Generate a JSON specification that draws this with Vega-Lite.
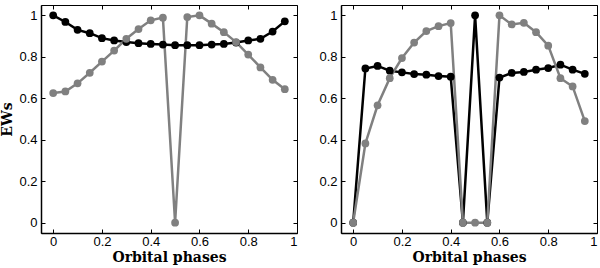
{
  "$schema": "https://vega.github.io/schema/vega-lite/v6.json",
  "padding": {"left": 0, "top": 4, "right": 0, "bottom": 0},
  "autosize": {"type": "pad"},
  "background": "white",
  "spacing": 20,
  "config": {
    "view": {"stroke": "black", "strokeWidth": 1},
    "axis": {
      "labelFont": "Liberation Sans", "labelFontSize": 13, "labelColor": "black",
      "titleFont": "DejaVu Serif", "titleFontSize": 14, "titleFontWeight": "bold", "titleColor": "black",
      "grid": false, "tickColor": "black", "domainColor": "black", "tickSize": -4, "domainWidth": 1.5,
      "values": [0, 0.2, 0.4, 0.6, 0.8, 1], "format": "~g"
    },
    "axisX": {"labelPadding": 6, "titlePadding": 2, "labelFlush": true},
    "axisY": {"labelPadding": 8, "titlePadding": 4}
  },
  "data": {"values": [
    {"panel": 1, "series": "b", "phase": 0.00, "ew": 1.000},
    {"panel": 1, "series": "b", "phase": 0.05, "ew": 0.968},
    {"panel": 1, "series": "b", "phase": 0.10, "ew": 0.930},
    {"panel": 1, "series": "b", "phase": 0.15, "ew": 0.914},
    {"panel": 1, "series": "b", "phase": 0.20, "ew": 0.890},
    {"panel": 1, "series": "b", "phase": 0.25, "ew": 0.879},
    {"panel": 1, "series": "b", "phase": 0.30, "ew": 0.871},
    {"panel": 1, "series": "b", "phase": 0.35, "ew": 0.866},
    {"panel": 1, "series": "b", "phase": 0.40, "ew": 0.862},
    {"panel": 1, "series": "b", "phase": 0.45, "ew": 0.859},
    {"panel": 1, "series": "b", "phase": 0.50, "ew": 0.856},
    {"panel": 1, "series": "b", "phase": 0.55, "ew": 0.856},
    {"panel": 1, "series": "b", "phase": 0.60, "ew": 0.856},
    {"panel": 1, "series": "b", "phase": 0.65, "ew": 0.859},
    {"panel": 1, "series": "b", "phase": 0.70, "ew": 0.862},
    {"panel": 1, "series": "b", "phase": 0.75, "ew": 0.869},
    {"panel": 1, "series": "b", "phase": 0.80, "ew": 0.879},
    {"panel": 1, "series": "b", "phase": 0.85, "ew": 0.887},
    {"panel": 1, "series": "b", "phase": 0.90, "ew": 0.922},
    {"panel": 1, "series": "b", "phase": 0.95, "ew": 0.971},
    {"panel": 1, "series": "g", "phase": 0.00, "ew": 0.625},
    {"panel": 1, "series": "g", "phase": 0.05, "ew": 0.633},
    {"panel": 1, "series": "g", "phase": 0.10, "ew": 0.672},
    {"panel": 1, "series": "g", "phase": 0.15, "ew": 0.723},
    {"panel": 1, "series": "g", "phase": 0.20, "ew": 0.777},
    {"panel": 1, "series": "g", "phase": 0.25, "ew": 0.830},
    {"panel": 1, "series": "g", "phase": 0.30, "ew": 0.887},
    {"panel": 1, "series": "g", "phase": 0.35, "ew": 0.934},
    {"panel": 1, "series": "g", "phase": 0.40, "ew": 0.976},
    {"panel": 1, "series": "g", "phase": 0.45, "ew": 0.989},
    {"panel": 1, "series": "g", "phase": 0.50, "ew": 0.000},
    {"panel": 1, "series": "g", "phase": 0.55, "ew": 0.992},
    {"panel": 1, "series": "g", "phase": 0.60, "ew": 1.000},
    {"panel": 1, "series": "g", "phase": 0.65, "ew": 0.960},
    {"panel": 1, "series": "g", "phase": 0.70, "ew": 0.919},
    {"panel": 1, "series": "g", "phase": 0.75, "ew": 0.871},
    {"panel": 1, "series": "g", "phase": 0.80, "ew": 0.811},
    {"panel": 1, "series": "g", "phase": 0.85, "ew": 0.749},
    {"panel": 1, "series": "g", "phase": 0.90, "ew": 0.689},
    {"panel": 1, "series": "g", "phase": 0.95, "ew": 0.644},
    {"panel": 2, "series": "b", "phase": 0.00, "ew": 0.000},
    {"panel": 2, "series": "b", "phase": 0.05, "ew": 0.744},
    {"panel": 2, "series": "b", "phase": 0.10, "ew": 0.756},
    {"panel": 2, "series": "b", "phase": 0.15, "ew": 0.733},
    {"panel": 2, "series": "b", "phase": 0.20, "ew": 0.725},
    {"panel": 2, "series": "b", "phase": 0.25, "ew": 0.717},
    {"panel": 2, "series": "b", "phase": 0.30, "ew": 0.714},
    {"panel": 2, "series": "b", "phase": 0.35, "ew": 0.707},
    {"panel": 2, "series": "b", "phase": 0.40, "ew": 0.704},
    {"panel": 2, "series": "b", "phase": 0.45, "ew": 0.000},
    {"panel": 2, "series": "b", "phase": 0.50, "ew": 1.000},
    {"panel": 2, "series": "b", "phase": 0.55, "ew": 0.000},
    {"panel": 2, "series": "b", "phase": 0.60, "ew": 0.700},
    {"panel": 2, "series": "b", "phase": 0.65, "ew": 0.722},
    {"panel": 2, "series": "b", "phase": 0.70, "ew": 0.727},
    {"panel": 2, "series": "b", "phase": 0.75, "ew": 0.738},
    {"panel": 2, "series": "b", "phase": 0.80, "ew": 0.746},
    {"panel": 2, "series": "b", "phase": 0.85, "ew": 0.762},
    {"panel": 2, "series": "b", "phase": 0.90, "ew": 0.738},
    {"panel": 2, "series": "b", "phase": 0.95, "ew": 0.718},
    {"panel": 2, "series": "g", "phase": 0.00, "ew": 0.000},
    {"panel": 2, "series": "g", "phase": 0.05, "ew": 0.382},
    {"panel": 2, "series": "g", "phase": 0.10, "ew": 0.566},
    {"panel": 2, "series": "g", "phase": 0.15, "ew": 0.697},
    {"panel": 2, "series": "g", "phase": 0.20, "ew": 0.794},
    {"panel": 2, "series": "g", "phase": 0.25, "ew": 0.869},
    {"panel": 2, "series": "g", "phase": 0.30, "ew": 0.924},
    {"panel": 2, "series": "g", "phase": 0.35, "ew": 0.948},
    {"panel": 2, "series": "g", "phase": 0.40, "ew": 0.963},
    {"panel": 2, "series": "g", "phase": 0.45, "ew": 0.000},
    {"panel": 2, "series": "g", "phase": 0.50, "ew": 0.000},
    {"panel": 2, "series": "g", "phase": 0.55, "ew": 0.000},
    {"panel": 2, "series": "g", "phase": 0.60, "ew": 1.000},
    {"panel": 2, "series": "g", "phase": 0.65, "ew": 0.956},
    {"panel": 2, "series": "g", "phase": 0.70, "ew": 0.964},
    {"panel": 2, "series": "g", "phase": 0.75, "ew": 0.919},
    {"panel": 2, "series": "g", "phase": 0.80, "ew": 0.854},
    {"panel": 2, "series": "g", "phase": 0.85, "ew": 0.697},
    {"panel": 2, "series": "g", "phase": 0.90, "ew": 0.657},
    {"panel": 2, "series": "g", "phase": 0.95, "ew": 0.490}
  ]},
  "hconcat": [
    {
      "width": 256, "height": 228,
      "transform": [{"filter": "datum.panel == 1"}],
      "layer": [
        {
          "mark": {"type": "line", "strokeWidth": 2.5, "point": {"size": 60, "filled": true, "opacity": 1}},
          "encoding": {
            "x": {"field": "phase", "type": "quantitative", "scale": {"domain": [-0.05, 1], "nice": false, "zero": false}, "axis": {"title": "Orbital phases"}},
            "y": {"field": "ew", "type": "quantitative", "scale": {"domain": [-0.05, 1.05], "nice": false, "zero": false}, "axis": {"title": "EWs"}},
            "color": {"field": "series", "type": "nominal", "scale": {"domain": ["b", "g"], "range": ["#000000", "#808080"]}, "legend": null}
          }
        },
        {
          "mark": {"type": "line", "opacity": 0},
          "encoding": {
            "x": {"field": "phase", "type": "quantitative", "scale": {"domain": [-0.05, 1], "nice": false, "zero": false}, "axis": {"orient": "top", "labels": false, "title": null, "domain": false}},
            "y": {"field": "ew", "type": "quantitative", "scale": {"domain": [-0.05, 1.05], "nice": false, "zero": false}, "axis": {"orient": "right", "labels": false, "title": null, "domain": false}}
          }
        }
      ],
      "resolve": {"axis": {"x": "independent", "y": "independent"}}
    },
    {
      "width": 256, "height": 228,
      "transform": [{"filter": "datum.panel == 2"}],
      "layer": [
        {
          "mark": {"type": "line", "strokeWidth": 2.5, "point": {"size": 60, "filled": true, "opacity": 1}},
          "encoding": {
            "x": {"field": "phase", "type": "quantitative", "scale": {"domain": [-0.05, 1], "nice": false, "zero": false}, "axis": {"title": "Orbital phases"}},
            "y": {"field": "ew", "type": "quantitative", "scale": {"domain": [-0.05, 1.05], "nice": false, "zero": false}, "axis": {"title": null}},
            "color": {"field": "series", "type": "nominal", "scale": {"domain": ["b", "g"], "range": ["#000000", "#808080"]}, "legend": null}
          }
        },
        {
          "mark": {"type": "line", "opacity": 0},
          "encoding": {
            "x": {"field": "phase", "type": "quantitative", "scale": {"domain": [-0.05, 1], "nice": false, "zero": false}, "axis": {"orient": "top", "labels": false, "title": null, "domain": false}},
            "y": {"field": "ew", "type": "quantitative", "scale": {"domain": [-0.05, 1.05], "nice": false, "zero": false}, "axis": {"orient": "right", "labels": false, "title": null, "domain": false}}
          }
        }
      ],
      "resolve": {"axis": {"x": "independent", "y": "independent"}}
    }
  ]
}
